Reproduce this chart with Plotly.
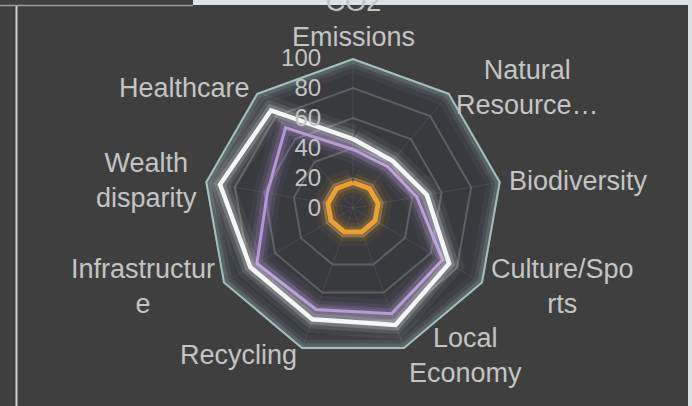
import math
import plotly.graph_objects as go

# Radar indicators (full names) and the wrapped labels shown around the chart
indicators = ["CO2 Emissions", "Natural Resources", "Biodiversity", "Culture/Sports",
              "Local Economy", "Recycling", "Infrastructure", "Wealth disparity", "Healthcare"]
indicator_labels = ["CO2<br>Emissions", "Natural<br>Resource…", "Biodiversity", "Culture/Spo<br>rts",
                    "Local<br>Economy", "Recycling", "Infrastructur<br>e", "Wealth<br>disparity", "Healthcare"]
radial_ticks = [0, 20, 40, 60, 80, 100]

# Series values, one per indicator
target = [100, 100, 100, 100, 100, 100, 100, 100, 100]
city_a = [46, 41, 50, 74, 83, 79, 79, 90, 85]
city_b = [39, 36, 43, 69, 75, 72, 74, 58, 70]
city_c = [17, 17, 17, 17, 17, 17, 17, 17, 17]

series = [
    ("Target", target, "#a2c0bc", 4),
    ("City B", city_b, "#b596d6", 3),
    ("City A", city_a, "#f4f7f6", 4.5),
    ("City C", city_c, "#eaa132", 5),
]

BG = "#3f3f3f"
TEXT = "#c4c4c4"
FONT = "Liberation Sans, Arial, sans-serif"

W, H = 692, 406
DOM_X = [203 / W, 503 / W]
DOM_Y = [48 / H, 348 / H]


def rgba(hex_color, a):
    h = hex_color.lstrip("#")
    r, g, b = int(h[0:2], 16), int(h[2:4], 16), int(h[4:6], 16)
    return f"rgba({r},{g},{b},{a})"


fig = go.Figure()

for name, values, color, width in series:
    r = values + values[:1]
    theta = indicators + indicators[:1]
    # soft glow built from wide translucent strokes beneath the line
    for w, a in [(28, 0.06), (18, 0.11), (11, 0.2)]:
        fig.add_trace(go.Scatterpolar(
            r=r, theta=theta, mode="lines", name=name, showlegend=False,
            line=dict(color=rgba(color, a), width=w), hoverinfo="skip"))
    fig.add_trace(go.Scatterpolar(
        r=r, theta=theta, mode="lines", name=name, showlegend=False,
        line=dict(color=color, width=width)))

# Indicator names placed just outside each spoke, aligned by side like a radar chart
cx, cy = sum(DOM_X) / 2, sum(DOM_Y) / 2
rx, ry = (DOM_X[1] - DOM_X[0]) / 2, (DOM_Y[1] - DOM_Y[0]) / 2
annotations = []
n = len(indicators)
for i, label in enumerate(indicator_labels):
    ang = math.radians(i * 360 / n)
    s, c = math.sin(ang), math.cos(ang)
    top = c > 0.95
    gap = 1.03 if top else 1.045
    annotations.append(dict(
        xref="paper", yref="paper", showarrow=False,
        x=cx + rx * gap * s, y=cy + ry * gap * c,
        xanchor="left" if s > 0.05 else ("right" if s < -0.05 else "center"),
        yanchor="bottom" if top else ("top" if c < -0.95 else "middle"),
        text=label, align="center",
        font=dict(size=27, color=TEXT, family=FONT),
    ))

fig.update_layout(
    width=W, height=H,
    margin=dict(l=0, r=0, t=0, b=0),
    paper_bgcolor=BG,
    plot_bgcolor=BG,
    font=dict(family=FONT, color=TEXT, size=24),
    showlegend=False,
    annotations=annotations,
    polar=dict(
        domain=dict(x=DOM_X, y=DOM_Y),
        bgcolor="#383a3e",
        gridshape="linear",
        radialaxis=dict(
            range=[0, 100], tickvals=radial_ticks, angle=90, tickangle=90,
            side="counterclockwise",
            showline=False, gridcolor="rgba(120,120,125,0.6)", gridwidth=1.8,
            ticks="outside", ticklen=23, tickcolor="rgba(0,0,0,0)",
            tickfont=dict(size=24, color=TEXT, family=FONT),
        ),
        angularaxis=dict(
            direction="clockwise", rotation=90,
            categoryorder="array", categoryarray=indicators,
            showticklabels=False,
            showline=False, gridcolor="rgba(110,110,115,0.3)", gridwidth=1,
            ticks="",
        ),
    ),
    shapes=[
        # page frame around the chart
        dict(type="rect", xref="paper", yref="paper", x0=193 / W, x1=1, y0=1 - 5 / H, y1=1,
             fillcolor="#dce3e6", line=dict(width=0), layer="above"),
        dict(type="line", xref="paper", yref="paper", x0=0, x1=193 / W, y0=1 - 5.5 / H, y1=1 - 5.5 / H,
             line=dict(color="#9a9a9a", width=1.5), layer="above"),
        dict(type="line", xref="paper", yref="paper", x0=16.5 / W, x1=16.5 / W, y0=0, y1=1 - 6 / H,
             line=dict(color="#cfcfcf", width=2), layer="above"),
        dict(type="rect", xref="paper", yref="paper", x0=688 / W, x1=1, y0=0, y1=1,
             fillcolor="#d9dedf", line=dict(width=0), layer="above"),
    ],
)

fig.write_html("out.html")
